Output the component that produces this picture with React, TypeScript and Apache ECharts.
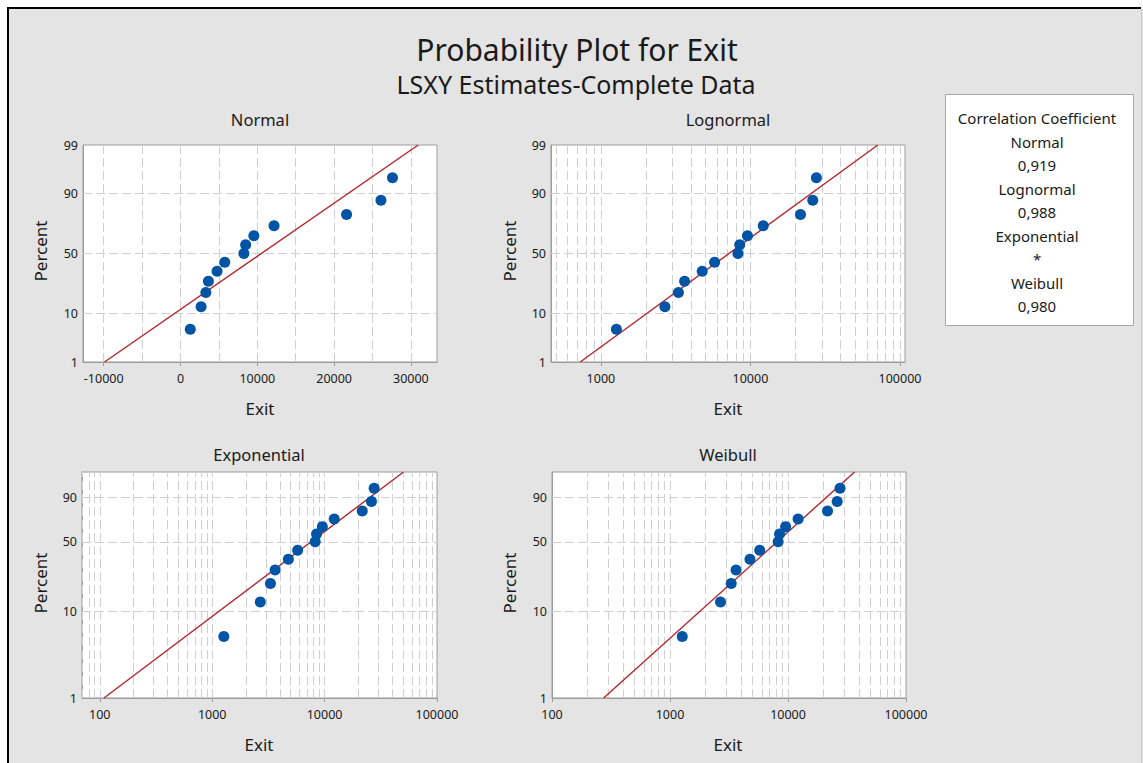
import React, { useEffect, useRef } from "react";
import * as echarts from "echarts";

// ---------- data ----------
const exitValues = [1270, 2680, 3300, 3630, 4760, 5760, 8250, 8480, 9550, 12180, 21620, 26100, 27600];
const percentValues = [5.2, 12.7, 20.1, 27.6, 35.1, 42.5, 50.0, 57.5, 64.9, 72.4, 79.9, 87.3, 94.8];

// fitted lines: [Exit, Percent] end points
const normalFit = [[-9900, 1], [30950, 99]];
const lognormalFit = [[728, 1], [71000, 99]];
const exponentialFit = [[109, 1], [50350, 99]];
const weibullFit = [[274, 1], [36650, 99]];

// axis ticks / grid lines
const normalXTicks = [-10000, 0, 10000, 20000, 30000];
const normalXGrid = [-10000, -5000, 0, 5000, 10000, 15000, 20000, 25000, 30000];
const logXTicks = [100, 1000, 10000, 100000];
const logXGrid = [
  60, 70, 80, 90,
  100, 200, 300, 400, 500, 600, 700, 800, 900,
  1000, 2000, 3000, 4000, 5000, 6000, 7000, 8000, 9000,
  10000, 20000, 30000, 40000, 50000, 60000, 70000, 80000, 90000,
  100000,
];
const normalPctTicks = [1, 10, 50, 90, 99];
const weibullPctTicks = [1, 10, 50, 90];
const pctGrid = [10, 50, 90];
const pctRange = [1, 99];

const distNames = ["Normal", "Lognormal", "Exponential", "Weibull"];
const correlations = ["0,919", "0,988", "*", "0,980"];

// ---------- scale transforms ----------
function normInv(p: number): number {
  const a = [-3.969683028665376e1, 2.209460984245205e2, -2.759285104469687e2, 1.38357751867269e2, -3.066479806614716e1, 2.506628277459239];
  const b = [-5.447609879822406e1, 1.615858368580409e2, -1.556989798598866e2, 6.680131188771972e1, -1.328068155288572e1];
  const c = [-7.784894002430293e-3, -3.223964580411365e-1, -2.400758277161838, -2.549732539343734, 4.374664141464968, 2.938163982698783];
  const d = [7.784695709041462e-3, 3.224671290700398e-1, 2.445134137142996, 3.754408661907416];
  const pl = 0.02425;
  if (p < pl) {
    const q = Math.sqrt(-2 * Math.log(p));
    return (((((c[0] * q + c[1]) * q + c[2]) * q + c[3]) * q + c[4]) * q + c[5]) / ((((d[0] * q + d[1]) * q + d[2]) * q + d[3]) * q + 1);
  }
  if (p > 1 - pl) {
    const q = Math.sqrt(-2 * Math.log(1 - p));
    return -(((((c[0] * q + c[1]) * q + c[2]) * q + c[3]) * q + c[4]) * q + c[5]) / ((((d[0] * q + d[1]) * q + d[2]) * q + d[3]) * q + 1);
  }
  const q = p - 0.5;
  const r = q * q;
  return ((((((a[0] * r + a[1]) * r + a[2]) * r + a[3]) * r + a[4]) * r + a[5]) * q) / (((((b[0] * r + b[1]) * r + b[2]) * r + b[3]) * r + b[4]) * r + 1);
}
const zT = (pct: number) => normInv(pct / 100);
const wT = (pct: number) => Math.log(-Math.log(1 - pct / 100));
const linT = (x: number) => x;
const logT = (x: number) => Math.log10(x);

// ---------- layout ----------
const FONT = "'Noto Sans', 'Open Sans', sans-serif";
const TXT = "#1a1a1a";
const AXC = "#9c9c9c";
const GRIDC = "#d0d0d0";

const panels = [
  { grid: { left: 83, top: 145, width: 354, height: 217 }, xt: linT, yt: zT, xMin: -12700, xMax: 33400,
    xTicks: normalXTicks, xGrid: normalXGrid, yTicks: normalPctTicks, fit: normalFit,
    fmt: (v: number) => String(Math.round(v)), title: [260, 119], exit: [260, 408], pct: [40, 251] },
  { grid: { left: 551, top: 145, width: 354, height: 217 }, xt: logT, yt: zT, xMin: 464, xMax: 108000,
    xTicks: logXTicks, xGrid: logXGrid, yTicks: normalPctTicks, fit: lognormalFit,
    fmt: (v: number) => String(Math.round(Math.pow(10, v))), title: [728, 119], exit: [728, 408], pct: [509, 251] },
  { grid: { left: 82, top: 472, width: 355, height: 226 }, xt: logT, yt: wT, xMin: 69.5, xMax: 100000,
    xTicks: logXTicks, xGrid: logXGrid, yTicks: weibullPctTicks, fit: exponentialFit,
    fmt: (v: number) => String(Math.round(Math.pow(10, v))), title: [259, 454], exit: [259, 744], pct: [40, 583] },
  { grid: { left: 552, top: 472, width: 354, height: 226 }, xt: logT, yt: wT, xMin: 100, xMax: 100000,
    xTicks: logXTicks, xGrid: logXGrid, yTicks: weibullPctTicks, fit: weibullFit,
    fmt: (v: number) => String(Math.round(Math.pow(10, v))), title: [728, 454], exit: [728, 744], pct: [509, 583] },
];

function buildOption() {
  const grids: any[] = [];
  const xAxes: any[] = [];
  const yAxes: any[] = [];
  const series: any[] = [];
  const graphics: any[] = [];

  // page frame
  graphics.push({ type: "rect", z: -10, shape: { x: 9, y: 9, width: 1134, height: 754 }, style: { fill: "#e4e4e4" }, silent: true });
  graphics.push({ type: "line", z: -9, shape: { x1: 9, y1: 8, x2: 1141, y2: 8 }, style: { stroke: "#000", lineWidth: 2 }, silent: true });
  graphics.push({ type: "line", z: -9, shape: { x1: 8, y1: 7, x2: 8, y2: 763 }, style: { stroke: "#000", lineWidth: 2 }, silent: true });
  graphics.push({ type: "line", z: -9, shape: { x1: 1141.5, y1: 9, x2: 1141.5, y2: 763 }, style: { stroke: "#c8c8c8", lineWidth: 1 }, silent: true });

  graphics.push({ type: "text", x: 577, y: 49, style: { text: "Probability Plot for Exit", fontSize: 30, fontFamily: FONT, fill: TXT, align: "center", verticalAlign: "middle" } });
  graphics.push({ type: "text", x: 576, y: 84, style: { text: "LSXY Estimates-Complete Data", fontSize: 25, fontFamily: FONT, fill: TXT, align: "center", verticalAlign: "middle" } });

  panels.forEach((p, i) => {
    const yMin = p.yt(pctRange[0]);
    const yMax = p.yt(pctRange[1]);
    const xMin = p.xt(p.xMin);
    const xMax = p.xt(p.xMax);
    const xTickVals = p.xTicks.map(p.xt).filter((v) => v >= xMin - 1e-9 && v <= xMax + 1e-9);
    const yTickVals = p.yTicks.map(p.yt);
    const yTicks = p.yTicks;
    const yt = p.yt;

    grids.push({ ...p.grid, show: true, backgroundColor: "#ffffff", borderColor: AXC, borderWidth: 1, containLabel: false, outerBoundsMode: "none" });
    xAxes.push({
      gridIndex: i, type: "value", min: xMin, max: xMax,
      axisLine: { show: true, onZero: false, lineStyle: { color: AXC, width: 1 } },
      axisTick: { show: true, length: 4, inside: false, customValues: xTickVals, lineStyle: { color: AXC } },
      axisLabel: { customValues: xTickVals, formatter: p.fmt, color: TXT, fontSize: 12.5, lineHeight: 14, fontFamily: FONT, margin: 9, showMinLabel: true, showMaxLabel: true, hideOverlap: false },
      splitLine: { show: false },
    });
    yAxes.push({
      gridIndex: i, type: "value", min: yMin, max: yMax,
      axisLine: { show: true, onZero: false, lineStyle: { color: AXC, width: 1 } },
      axisTick: { show: false, customValues: yTickVals },
      axisLabel: {
        customValues: yTickVals, color: TXT, fontSize: 12.5, lineHeight: 13, fontFamily: FONT, margin: 5, showMinLabel: true, showMaxLabel: true, hideOverlap: false,
        formatter: (v: number) => {
          const t = yTicks.find((k) => Math.abs(yt(k) - v) < 1e-6);
          return t === undefined ? "" : String(t);
        },
      },
      splitLine: { show: false },
    });

    // dashed grid lines
    const gl: any[] = [];
    p.xGrid.forEach((g) => {
      const gx = p.xt(g);
      if (gx > xMin + 1e-9 && gx < xMax - 1e-9) gl.push({ coords: [[gx, yMin], [gx, yMax]] });
    });
    pctGrid.forEach((g) => {
      const gy = p.yt(g);
      gl.push({ coords: [[xMin, gy], [xMax, gy]] });
    });
    series.push({
      type: "lines", coordinateSystem: "cartesian2d", xAxisIndex: i, yAxisIndex: i, silent: true, z: 1,
      lineStyle: { color: GRIDC, width: 1, type: [9, 4], opacity: 1 }, data: gl,
    });

    // fitted line
    series.push({
      type: "line", xAxisIndex: i, yAxisIndex: i, z: 3, symbol: "none", silent: true,
      lineStyle: { color: "#b3262d", width: 1.4 },
      data: p.fit.map(([x, pc]) => [p.xt(x), p.yt(pc)]),
    });
    // points
    series.push({
      type: "scatter", xAxisIndex: i, yAxisIndex: i, z: 4, symbol: "circle", symbolSize: 11,
      itemStyle: { color: "#0054a6", borderWidth: 0, opacity: 1 },
      data: exitValues.map((x, k) => [p.xt(x), p.yt(percentValues[k])]),
    });

    graphics.push({ type: "text", x: p.title[0], y: p.title[1], style: { text: distNames[i], fontSize: 16.5, fontFamily: FONT, fill: TXT, align: "center", verticalAlign: "middle" } });
    graphics.push({ type: "text", x: p.exit[0], y: p.exit[1], style: { text: "Exit", fontSize: 17, fontFamily: FONT, fill: TXT, align: "center", verticalAlign: "middle" } });
    graphics.push({ type: "text", x: p.pct[0], y: p.pct[1], rotation: Math.PI / 2, style: { text: "Percent", fontSize: 17, fontFamily: FONT, fill: TXT, align: "center", verticalAlign: "middle" } });
  });

  // correlation box
  graphics.push({ type: "rect", shape: { x: 945.5, y: 94.5, width: 188, height: 231 }, style: { fill: "#ffffff", stroke: "#a8a8a8", lineWidth: 1 } });
  const boxLines = ["Correlation Coefficient"];
  distNames.forEach((n, k) => { boxLines.push(n); boxLines.push(correlations[k]); });
  boxLines.forEach((t, k) => {
    graphics.push({ type: "text", x: 1037, y: 118 + k * 23.5, style: { text: t, fontSize: 15, fontFamily: FONT, fill: TXT, align: "center", verticalAlign: "middle" } });
  });

  return {
    animation: false,
    backgroundColor: "#ffffff",
    grid: grids,
    xAxis: xAxes,
    yAxis: yAxes,
    series,
    graphic: graphics,
  };
}

export default function App() {
  const ref = useRef<HTMLDivElement>(null);
  useEffect(() => {
    if (!ref.current) return;
    const chart = echarts.init(ref.current, undefined, { renderer: "svg" });
    chart.setOption(buildOption() as any);
    return () => chart.dispose();
  }, []);
  return <div ref={ref} style={{ position: "absolute", left: 0, top: 0, width: 1143, height: 763 }} />;
}
